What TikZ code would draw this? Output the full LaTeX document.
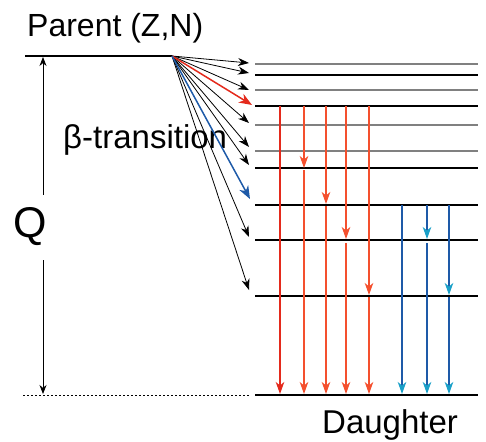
\documentclass[tikz,border=0pt]{standalone}
\usepackage{fontspec}
\setmainfont{Liberation Sans}
\usetikzlibrary{arrows.meta}
\definecolor{gred}{HTML}{E42A1C}
\definecolor{gorange}{HTML}{F4502E}
\definecolor{gblue}{HTML}{1E5AA8}
\definecolor{gcyan}{HTML}{1AA0C8}
\definecolor{lvlgray}{HTML}{808080}
\begin{document}
\begin{tikzpicture}[x=1pt,y=-1pt,
  level/.style={line width=1.5pt},
  graylevel/.style={line width=1.5pt,draw=lvlgray},
  beta/.style={line width=0.8pt,-{Stealth[length=11pt,width=8pt,inset=3.5pt]}},
  gam/.style={line width=1.5pt,-{Stealth[length=12pt,width=8.5pt,inset=3.5pt]}},
  gcy/.style={line width=1.5pt,draw=gblue,-{Stealth[length=12pt,width=8.5pt,inset=3.5pt,color=gcyan,fill=gcyan]}},
  lbl/.style={inner sep=0pt,anchor=base west}]
\useasboundingbox (0,0) rectangle (486,441);

% parent level and labels
\coordinate (pL) at (25,56);
\coordinate (pR) at (172,56);
\draw[level] (pL) -- (pR);
\node[lbl,font=\fontsize{32}{32}\selectfont] (parent) at (27,37) {Parent (Z,N)};
\node[lbl,font=\fontsize{33}{33}\selectfont] (beta) at (63,148) {β-transition};
\node[lbl,font=\fontsize{43}{43}\selectfont] (qlab) at (13,237) {Q};
\node[lbl,font=\fontsize{33}{33}\selectfont] (daughter) at (322,433) {Daughter};

% daughter levels
\foreach \y/\n/\s in {64/a/graylevel,75/b/level,90/c/graylevel,106/d/level,
                      125/e/graylevel,151/f/graylevel,168/g/level,205/h/level,
                      240/i/level,296/j/level,395/gs/level}{
  \coordinate (\n L) at (255,\y);
  \coordinate (\n R) at (478,\y);
  \draw[\s] (\n L) -- (\n R);
}
\draw[line width=0.7pt,dash pattern=on 2pt off 2pt] (23,395) -- (249,395);

% Q energy window
\coordinate (qtop) at (43,57);
\coordinate (qbot) at (43,394);
\draw[line width=0.8pt,{Stealth[length=9pt,width=7pt]}-] (qtop) -- (43,195);
\draw[line width=0.8pt,-{Stealth[length=9pt,width=7pt]}] (43,260) -- (qbot);

% beta feeding arrows
\foreach \y/\n in {63/a,73/b,90/c,123/e,147/f,165/g,237/i,290/j}{
  \coordinate (t\n) at (249,\y);
  \draw[beta] (pR) -- (t\n);
}
\coordinate (td) at (252,105);
\draw[beta,line width=1.5pt,draw=gred,-{Stealth[length=13pt,width=10pt,inset=4pt]}] (pR) -- (td);
\coordinate (th) at (250,199);
\draw[beta,line width=1.5pt,draw=gblue,-{Stealth[length=13pt,width=10pt,inset=4pt]}] (pR) -- (th);

% gamma cascades from level d
\draw[gam,draw=gred] (280,106) -- (280,394);
\draw[gam,draw=gorange] (304,106) -- (304,168);
\draw[gam,draw=gorange] (304,170) -- (304,394);
\draw[gam,draw=gorange] (326,106) -- (326,204);
\draw[gam,draw=gorange] (326,206) -- (326,394);
\draw[gam,draw=gorange] (346,106) -- (346,239);
\draw[gam,draw=gorange] (346,243) -- (346,394);
\draw[gam,draw=gorange] (369,106) -- (369,295);
\draw[gam,draw=gorange] (369,297) -- (369,394);

% gamma cascades from level h
\draw[gcy] (402,205) -- (402,394);
\draw[gcy] (427,205) -- (427,239);
\draw[gcy] (427,243) -- (427,394);
\draw[gcy] (449,205) -- (449,295);
\draw[gcy] (449,297) -- (449,394);
\end{tikzpicture}
\end{document}
